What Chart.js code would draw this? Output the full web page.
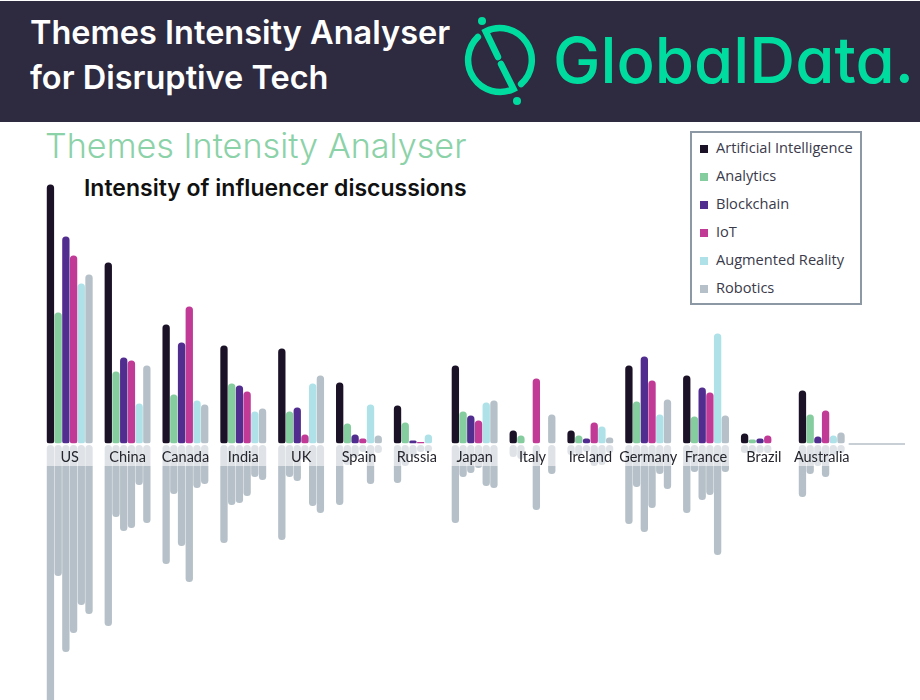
<!DOCTYPE html>
<html><head><meta charset="utf-8">
<script src="https://cdn.jsdelivr.net/npm/chart.js@4"></script>
<style>
html,body{margin:0;padding:0;background:#fff;width:920px;height:700px;overflow:hidden}
#page{position:relative;width:920px;height:700px;overflow:hidden}
#hdr{position:absolute;left:0;top:1px;width:920px;height:121px;background:#2e2a3f}
.h{position:absolute;color:#fff;font:600 32.5px Inter,sans-serif;white-space:nowrap;left:30px}
#gd{position:absolute;left:553px;top:21px;color:#00dc9f;font:500 63.5px Inter,sans-serif;font-feature-settings:"cv11";white-space:nowrap}
#logo{position:absolute;left:0;top:0}
#t1{position:absolute;left:45px;top:125px;color:#8cd2a8;font:300 34.2px Inter,sans-serif;white-space:nowrap}
#t2{position:absolute;left:84px;top:174px;color:#111;font:600 23px Inter,sans-serif;white-space:nowrap}
#lg{position:absolute;left:690px;top:131px;width:168px;height:170px;border:2px solid #8c99a5;background:#fff}
.r{position:absolute;left:8px;font:14.6px "Open Sans",sans-serif;color:#3a3a4a;white-space:nowrap;line-height:20px}
.r i{display:inline-block;width:8px;height:8px;margin-right:8px;vertical-align:0}
canvas{position:absolute;left:0}
</style></head><body>
<div id="page">
<div id="hdr"></div>
<div class="h" style="top:13px">Themes Intensity Analyser</div>
<div class="h" style="top:58px">for Disruptive Tech</div>
<svg id="logo" width="920" height="122" fill="none" stroke="#00dc9f" stroke-width="6.5" stroke-linecap="round">
<path d="M477.9 36.9 A32 32 0 0 0 513.5 89 L501 64"/>
<path d="M498 57 L485.7 31.4 A32 32 0 0 1 521.1 84"/>
<circle cx="482" cy="21" r="4" fill="#00dc9f" stroke="none"/>
<circle cx="517" cy="101" r="4" fill="#00dc9f" stroke="none"/>
</svg>
<div id="gd">GlobalData.</div>
<div id="t1">Themes Intensity Analyser</div>
<div id="t2">Intensity of influencer discussions</div>
<canvas id="up" width="920" height="326" style="top:122px"></canvas>
<canvas id="lo" width="920" height="255" style="top:445px"></canvas>
<div id="lg"></div>
</div>
<script>
const categories=['US','China','Canada','India','UK','Spain','Russia','Japan','Italy','Ireland','Germany','France','Brazil','Australia'];
const seriesNames=['Artificial Intelligence','Analytics','Blockchain','IoT','Augmented Reality','Robotics'];
const seriesColors=['#1b1228','#85cc9f','#522d90','#c03a96','#aee2e8','#b6c0c8'];
const lowerColor='#b6c0c8';
// intensity of influencer discussions (upward bars)
const aiUp=[259,181,119,98,95,61,38,78,13,13,78,68,10,53];
const analyticsUp=[131,72,49,60,32,20,21,32,8,8,42,27,4,29];
const blockchainUp=[207,86,101,58,36,9,3,28,null,5,87,56,5,7];
const iotUp=[188,83,137,52,9,5,1.5,23,65,21,63,51,8,33];
const arUp=[160,40,43,32,60,39,9,41,null,17,29,110,null,8];
const roboticsUp=[169,78,39,35,68,8,null,43,29,6,44,28,null,11];
// mirrored bars below the labels
const aiLow=[300,181,119,98,95,60,38,78,12,10,79,68,8,52];
const analyticsLow=[131,72,49,60,32,20,21,32,14,10,42,27,8,29];
const blockchainLow=[207,86,101,58,36,13,12,28,null,7,87,55,8,21];
const iotLow=[188,83,137,51,15,7,7,23,65,21,63,50,8,32];
const arLow=[160,40,43,32,61,39,7,41,null,20,29,110,null,10];
const roboticsLow=[169,78,39,35,68,8,null,43,29,8,44,27,null,8];
const bandDepth=21;

const upSeries=[aiUp,analyticsUp,blockchainUp,iotUp,arUp,roboticsUp];
const lowSeries=[aiLow,analyticsLow,blockchainLow,iotLow,arLow,roboticsLow];
const labels=[...categories,''];
const catPct=0.8, barPct=0.95;
const padX={left:40.8,right:11.5};

document.getElementById('lg').innerHTML=seriesNames.map((n,i)=>
 `<div class="r" style="top:${4+i*28}px"><i style="background:${seriesColors[i]}"></i>${n}</div>`).join('');

const tail={id:'tail',afterDatasetsDraw(c){
 const m=c.getDatasetMeta(5).data[categories.length-1];
 const y=c.scales.y.getPixelForValue(0)+0.5, g=c.ctx;
 g.save();g.strokeStyle=lowerColor;g.lineWidth=1.5;g.beginPath();
 g.moveTo(m.x+m.width/2+4,y);g.lineTo(c.chartArea.right-3.5,y);g.stroke();g.restore();
}};
const band={id:'band',
 afterLayout(c){const s=c.scales.x;s.bottom=s.top+c.scales.y.getPixelForValue(bandDepth);},
 afterDatasetsDraw(c){
 const a=c.chartArea,g=c.ctx,b=c.scales.y.getPixelForValue(bandDepth);
 g.save();g.fillStyle='rgba(255,255,255,0.56)';g.fillRect(a.left,a.top,a.right-a.left,b-a.top);g.restore();
}};
const common={responsive:false,animation:false,events:[],plugins:{legend:{display:false},tooltip:{enabled:false},title:{display:false}}};

new Chart(document.getElementById('up'),{type:'bar',plugins:[tail],
 data:{labels,datasets:upSeries.map((d,i)=>({label:seriesNames[i],data:d,backgroundColor:seriesColors[i],
  categoryPercentage:catPct,barPercentage:barPct,borderSkipped:false,
  borderRadius:{topLeft:3.5,topRight:3.5,bottomLeft:2.5,bottomRight:2.5}}))},
 options:{...common,layout:{padding:{...padX,top:0,bottom:4.5}},
  scales:{x:{display:false,grid:{display:false}},y:{display:false,min:0,max:321.5}}}});

new Chart(document.getElementById('lo'),{type:'bar',plugins:[band],
 data:{labels,datasets:lowSeries.map((d,i)=>({label:seriesNames[i],data:d,backgroundColor:lowerColor,
  categoryPercentage:catPct,barPercentage:barPct,borderSkipped:false,borderRadius:3.5}))},
 options:{...common,layout:{padding:{...padX,top:0,bottom:0}},
  scales:{
   x:{position:'top',grid:{display:false,drawTicks:false},border:{display:false},
      afterFit(s){s.height=0;},
      ticks:{z:1,padding:0,maxRotation:0,minRotation:0,autoSkip:false,color:'#26262e',font:{family:'Lato',size:14.5}}},
   y:{display:false,reverse:true,min:0,max:255}}}});
</script>
</body></html>
